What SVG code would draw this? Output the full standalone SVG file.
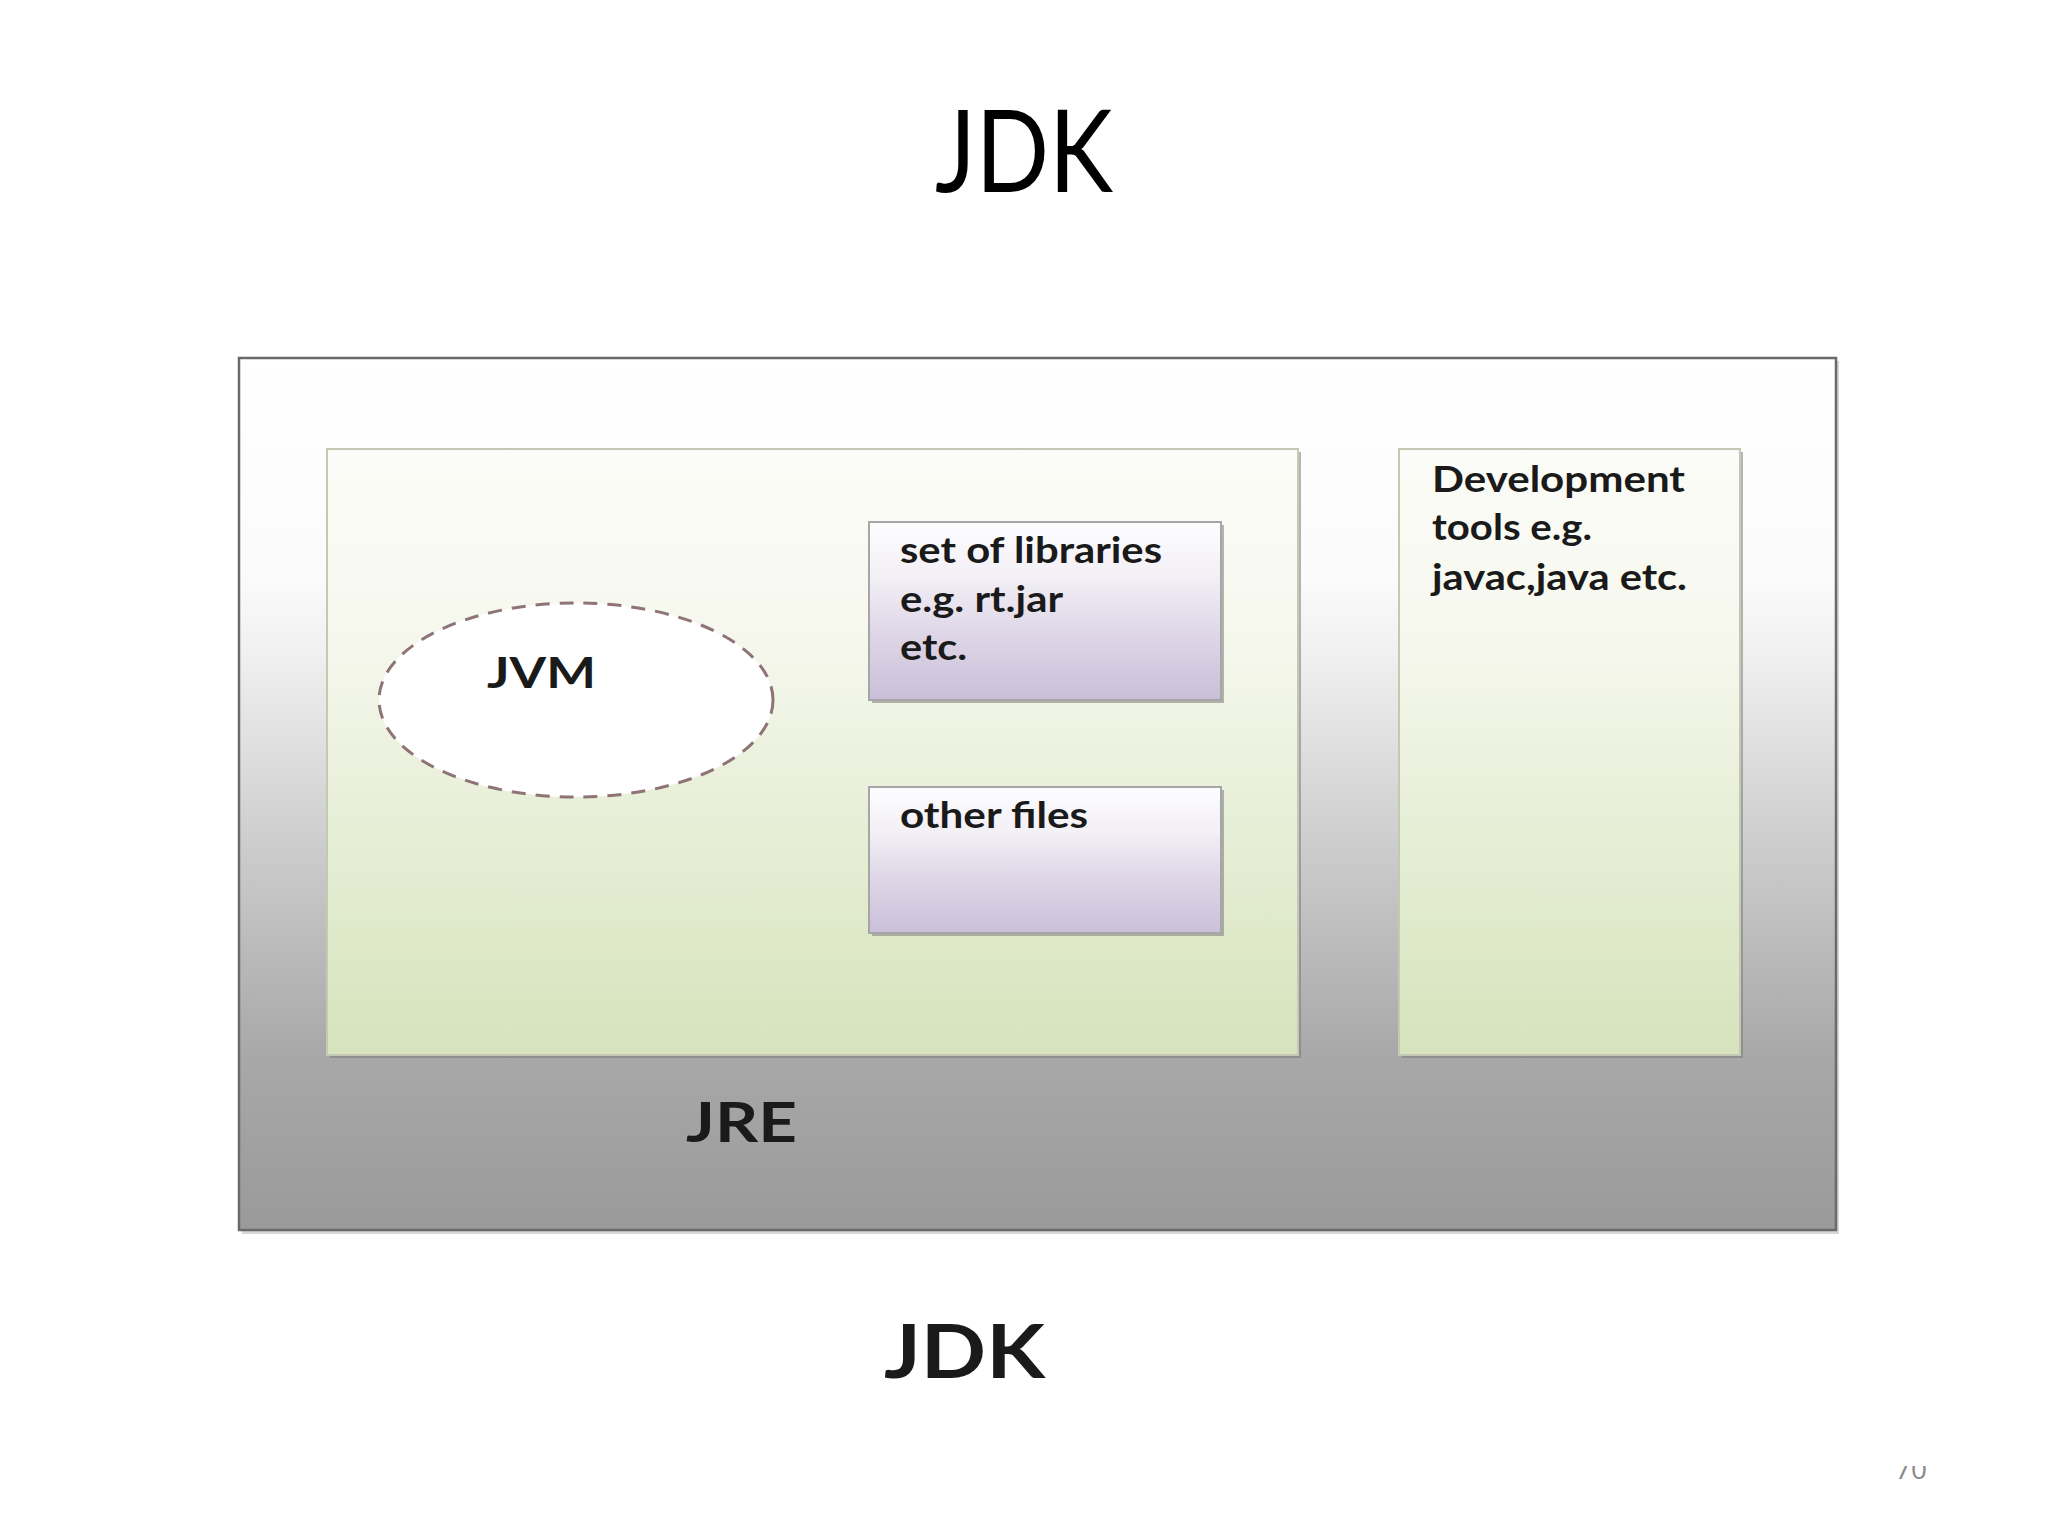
<svg xmlns="http://www.w3.org/2000/svg" width="2048" height="1536" viewBox="0 0 2048 1536">
<defs>
<linearGradient id="gOuter" x1="0" y1="0" x2="0" y2="1">
<stop offset="0" stop-color="#ffffff"/>
<stop offset="0.25" stop-color="#fbfbfb"/>
<stop offset="0.34" stop-color="#f0f0f0"/>
<stop offset="0.49" stop-color="#d8d8d8"/>
<stop offset="0.64" stop-color="#c0c0c0"/>
<stop offset="0.80" stop-color="#a8a8a8"/>
<stop offset="1" stop-color="#9a9a9a"/>
</linearGradient>
<linearGradient id="gGreen" x1="0" y1="0" x2="0" y2="1">
<stop offset="0" stop-color="#fcfcf8"/>
<stop offset="0.3" stop-color="#f6f8ee"/>
<stop offset="0.6" stop-color="#e8efd8"/>
<stop offset="1" stop-color="#d6e3bc"/>
</linearGradient>
<linearGradient id="gPurple" x1="0" y1="0" x2="0" y2="1">
<stop offset="0" stop-color="#fdfdfe"/>
<stop offset="0.3" stop-color="#f3f0f6"/>
<stop offset="0.65" stop-color="#ddd5e6"/>
<stop offset="1" stop-color="#cbbfd9"/>
</linearGradient>
<clipPath id="pageClip"><rect x="1860" y="1466" width="120" height="40"/></clipPath>
</defs>
<style>
.lbl{font-family:Lato,"Open Sans","Liberation Sans",sans-serif;font-weight:bold;fill:#1a1a1a}
.sm{font-size:36px}
.shadow{fill:#7a7a7a;opacity:0.55}
.green{fill:url(#gGreen);stroke:#c4c8b4;stroke-width:2}
.purple{fill:url(#gPurple);stroke:#a6a6a6;stroke-width:2}
</style>
<rect x="0" y="0" width="2048" height="1536" fill="#ffffff"/>
<g id="title">
<text x="935" y="192" font-family="Lato,'Open Sans','Liberation Sans',sans-serif" font-size="115" fill="#000" textLength="178" lengthAdjust="spacingAndGlyphs">JDK</text>
</g>
<g id="jdk">
<rect x="242" y="361" width="1597" height="873" fill="#b0b0b0" opacity="0.5"/>
<rect x="239" y="358" width="1597" height="872" fill="url(#gOuter)" stroke="#6a6a6a" stroke-width="2.5"/>
<text class="lbl" x="884" y="1378" font-size="74" fill="#000" textLength="161" lengthAdjust="spacingAndGlyphs">JDK</text>
</g>
<g id="jre">
<rect class="shadow" x="330" y="452" width="971" height="606"/>
<rect class="green" x="327" y="449" width="971" height="606"/>
<text class="lbl" x="686" y="1142" font-size="55" textLength="111" lengthAdjust="spacingAndGlyphs">JRE</text>
</g>
<g id="jvm">
<ellipse cx="576" cy="700" rx="197" ry="97" fill="#ffffff" stroke="#8e7474" stroke-width="3" stroke-dasharray="14 10"/>
<text class="lbl" x="487" y="688" font-size="42" textLength="109" lengthAdjust="spacingAndGlyphs">JVM</text>
</g>
<g id="libraries">
<rect class="shadow" x="872" y="525" width="352" height="178"/>
<rect class="purple" x="869" y="522" width="352" height="178"/>
<text class="lbl sm" x="900" y="563" textLength="262" lengthAdjust="spacingAndGlyphs">set of libraries</text>
<text class="lbl sm" x="900" y="612" textLength="163" lengthAdjust="spacingAndGlyphs">e.g. rt.jar</text>
<text class="lbl sm" x="900" y="660" textLength="67" lengthAdjust="spacingAndGlyphs">etc.</text>
</g>
<g id="otherfiles">
<rect class="shadow" x="872" y="790" width="352" height="146"/>
<rect class="purple" x="869" y="787" width="352" height="146"/>
<text class="lbl sm" x="900" y="828" textLength="188" lengthAdjust="spacingAndGlyphs">other files</text>
</g>
<g id="devtools">
<rect class="shadow" x="1402" y="452" width="341" height="606"/>
<rect class="green" x="1399" y="449" width="341" height="606"/>
<text class="lbl sm" x="1432" y="492" textLength="253" lengthAdjust="spacingAndGlyphs">Development</text>
<text class="lbl sm" x="1432" y="540" textLength="160" lengthAdjust="spacingAndGlyphs">tools e.g.</text>
<text class="lbl sm" x="1432" y="590" textLength="255" lengthAdjust="spacingAndGlyphs">javac,java etc.</text>
</g>
<g id="connectors"/>
<g id="pagenum" clip-path="url(#pageClip)">
<text x="1895" y="1479" font-family="'Open Sans','Liberation Sans',sans-serif" font-size="28" fill="#8a8a8a">70</text>
</g>
</svg>
